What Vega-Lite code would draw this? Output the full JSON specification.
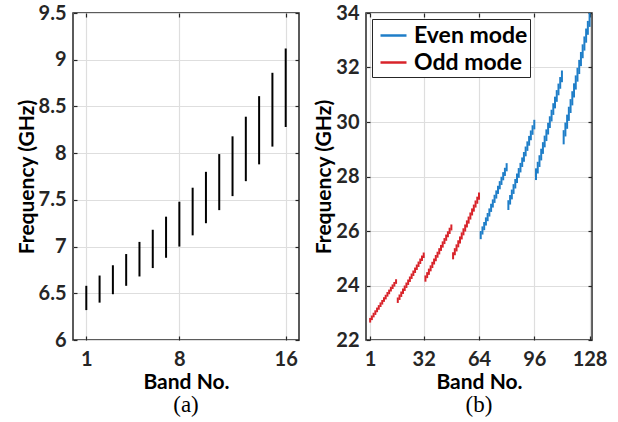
{
  "$schema": "https://vega.github.io/schema/vega-lite/v6.json",
  "background": "white",
  "padding": {"left": 15, "top": 2, "right": 5, "bottom": 2},
  "spacing": 12,
  "resolve": {"legend": {"color": "independent"}},
  "config": {
    "font": "Lato",
    "view": {"stroke": "#262626", "strokeWidth": 1.5},
    "axis": {
      "labelFont": "Lato", "labelFontSize": 20, "labelFontWeight": "bold", "labelColor": "#262626",
      "titleFont": "Lato", "titleFontSize": 21, "titleFontWeight": "bold", "titleColor": "black",
      "gridColor": "#dedede", "gridWidth": 1.2, "domain": false,
      "tickColor": "#262626", "tickSize": -4, "tickWidth": 1.2,
      "labelPadding": 11, "titlePadding": 3, "labelFlush": false
    },
    "axisX": {"labelPadding": 13, "titlePadding": 2},
    "axisY": {"titlePadding": 1},
    "title": {"font": "Liberation Serif", "fontSize": 23, "fontWeight": "normal", "color": "black"}
  },
  "hconcat": [
    {
      "width": 226, "height": 327,
      "title": {"text": "(a)", "orient": "bottom", "offset": 2},
      "data": {"values": [
        {"band": 1, "lo": 6.32, "hi": 6.58},
        {"band": 2, "lo": 6.40, "hi": 6.69},
        {"band": 3, "lo": 6.49, "hi": 6.80},
        {"band": 4, "lo": 6.58, "hi": 6.92},
        {"band": 5, "lo": 6.68, "hi": 7.05},
        {"band": 6, "lo": 6.77, "hi": 7.18},
        {"band": 7, "lo": 6.88, "hi": 7.32},
        {"band": 8, "lo": 7.00, "hi": 7.48},
        {"band": 9, "lo": 7.12, "hi": 7.63},
        {"band": 10, "lo": 7.25, "hi": 7.80},
        {"band": 11, "lo": 7.39, "hi": 7.99},
        {"band": 12, "lo": 7.54, "hi": 8.18},
        {"band": 13, "lo": 7.70, "hi": 8.39},
        {"band": 14, "lo": 7.88, "hi": 8.61},
        {"band": 15, "lo": 8.07, "hi": 8.86},
        {"band": 16, "lo": 8.28, "hi": 9.12}
      ]},
      "layer": [
        {
          "mark": {"type": "rule", "color": "black", "strokeWidth": 2},
          "encoding": {
            "x": {"field": "band", "type": "quantitative", "scale": {"domain": [0, 17], "nice": false, "zero": false},
                  "axis": {"values": [1, 8, 16], "title": "Band No."}},
            "y": {"field": "lo", "type": "quantitative", "scale": {"domain": [6, 9.5], "nice": false, "zero": false},
                  "axis": {"values": [6, 6.5, 7, 7.5, 8, 8.5, 9, 9.5], "format": "~g", "title": "Frequency (GHz)"}},
            "y2": {"field": "hi"}
          }
        },
        {
          "mark": {"type": "rule", "opacity": 0},
          "encoding": {
            "x": {"field": "band", "type": "quantitative", "scale": {"domain": [0, 17], "nice": false, "zero": false},
                  "axis": {"orient": "top", "values": [1, 8, 16], "labels": false, "title": null, "grid": false}},
            "y": {"field": "lo", "type": "quantitative", "scale": {"domain": [6, 9.5], "nice": false, "zero": false},
                  "axis": {"orient": "right", "values": [6, 6.5, 7, 7.5, 8, 8.5, 9, 9.5], "labels": false, "title": null, "grid": false}},
            "y2": {"field": "hi"}
          }
        }
      ],
      "resolve": {"axis": {"x": "independent", "y": "independent"}}
    },
    {
      "width": 226, "height": 327,
      "title": {"text": "(b)", "orient": "bottom", "offset": 2},
      "data": {"values": [
        {"band": 1, "lo": 22.64, "hi": 22.81, "mode": "Odd mode"},
        {"band": 2, "lo": 22.73, "hi": 22.90, "mode": "Odd mode"},
        {"band": 3, "lo": 22.83, "hi": 23.00, "mode": "Odd mode"},
        {"band": 4, "lo": 22.92, "hi": 23.09, "mode": "Odd mode"},
        {"band": 5, "lo": 23.02, "hi": 23.19, "mode": "Odd mode"},
        {"band": 6, "lo": 23.11, "hi": 23.28, "mode": "Odd mode"},
        {"band": 7, "lo": 23.21, "hi": 23.38, "mode": "Odd mode"},
        {"band": 8, "lo": 23.30, "hi": 23.47, "mode": "Odd mode"},
        {"band": 9, "lo": 23.40, "hi": 23.57, "mode": "Odd mode"},
        {"band": 10, "lo": 23.49, "hi": 23.66, "mode": "Odd mode"},
        {"band": 11, "lo": 23.59, "hi": 23.76, "mode": "Odd mode"},
        {"band": 12, "lo": 23.68, "hi": 23.85, "mode": "Odd mode"},
        {"band": 13, "lo": 23.78, "hi": 23.95, "mode": "Odd mode"},
        {"band": 14, "lo": 23.87, "hi": 24.04, "mode": "Odd mode"},
        {"band": 15, "lo": 23.96, "hi": 24.13, "mode": "Odd mode"},
        {"band": 16, "lo": 24.06, "hi": 24.23, "mode": "Odd mode"},
        {"band": 17, "lo": 23.36, "hi": 23.56, "mode": "Odd mode"},
        {"band": 18, "lo": 23.47, "hi": 23.67, "mode": "Odd mode"},
        {"band": 19, "lo": 23.58, "hi": 23.78, "mode": "Odd mode"},
        {"band": 20, "lo": 23.69, "hi": 23.89, "mode": "Odd mode"},
        {"band": 21, "lo": 23.80, "hi": 24.00, "mode": "Odd mode"},
        {"band": 22, "lo": 23.91, "hi": 24.11, "mode": "Odd mode"},
        {"band": 23, "lo": 24.02, "hi": 24.22, "mode": "Odd mode"},
        {"band": 24, "lo": 24.13, "hi": 24.33, "mode": "Odd mode"},
        {"band": 25, "lo": 24.24, "hi": 24.44, "mode": "Odd mode"},
        {"band": 26, "lo": 24.35, "hi": 24.55, "mode": "Odd mode"},
        {"band": 27, "lo": 24.46, "hi": 24.66, "mode": "Odd mode"},
        {"band": 28, "lo": 24.57, "hi": 24.77, "mode": "Odd mode"},
        {"band": 29, "lo": 24.68, "hi": 24.88, "mode": "Odd mode"},
        {"band": 30, "lo": 24.79, "hi": 24.99, "mode": "Odd mode"},
        {"band": 31, "lo": 24.90, "hi": 25.10, "mode": "Odd mode"},
        {"band": 32, "lo": 25.01, "hi": 25.21, "mode": "Odd mode"},
        {"band": 33, "lo": 24.14, "hi": 24.37, "mode": "Odd mode"},
        {"band": 34, "lo": 24.27, "hi": 24.49, "mode": "Odd mode"},
        {"band": 35, "lo": 24.39, "hi": 24.62, "mode": "Odd mode"},
        {"band": 36, "lo": 24.52, "hi": 24.74, "mode": "Odd mode"},
        {"band": 37, "lo": 24.64, "hi": 24.87, "mode": "Odd mode"},
        {"band": 38, "lo": 24.77, "hi": 24.99, "mode": "Odd mode"},
        {"band": 39, "lo": 24.89, "hi": 25.12, "mode": "Odd mode"},
        {"band": 40, "lo": 25.02, "hi": 25.24, "mode": "Odd mode"},
        {"band": 41, "lo": 25.14, "hi": 25.37, "mode": "Odd mode"},
        {"band": 42, "lo": 25.27, "hi": 25.49, "mode": "Odd mode"},
        {"band": 43, "lo": 25.39, "hi": 25.62, "mode": "Odd mode"},
        {"band": 44, "lo": 25.52, "hi": 25.74, "mode": "Odd mode"},
        {"band": 45, "lo": 25.64, "hi": 25.87, "mode": "Odd mode"},
        {"band": 46, "lo": 25.77, "hi": 25.99, "mode": "Odd mode"},
        {"band": 47, "lo": 25.89, "hi": 26.12, "mode": "Odd mode"},
        {"band": 48, "lo": 26.02, "hi": 26.24, "mode": "Odd mode"},
        {"band": 49, "lo": 24.96, "hi": 25.22, "mode": "Odd mode"},
        {"band": 50, "lo": 25.11, "hi": 25.37, "mode": "Odd mode"},
        {"band": 51, "lo": 25.25, "hi": 25.51, "mode": "Odd mode"},
        {"band": 52, "lo": 25.40, "hi": 25.66, "mode": "Odd mode"},
        {"band": 53, "lo": 25.54, "hi": 25.80, "mode": "Odd mode"},
        {"band": 54, "lo": 25.69, "hi": 25.95, "mode": "Odd mode"},
        {"band": 55, "lo": 25.84, "hi": 26.10, "mode": "Odd mode"},
        {"band": 56, "lo": 25.98, "hi": 26.24, "mode": "Odd mode"},
        {"band": 57, "lo": 26.13, "hi": 26.39, "mode": "Odd mode"},
        {"band": 58, "lo": 26.27, "hi": 26.53, "mode": "Odd mode"},
        {"band": 59, "lo": 26.42, "hi": 26.68, "mode": "Odd mode"},
        {"band": 60, "lo": 26.57, "hi": 26.83, "mode": "Odd mode"},
        {"band": 61, "lo": 26.71, "hi": 26.97, "mode": "Odd mode"},
        {"band": 62, "lo": 26.86, "hi": 27.12, "mode": "Odd mode"},
        {"band": 63, "lo": 27.00, "hi": 27.26, "mode": "Odd mode"},
        {"band": 64, "lo": 27.15, "hi": 27.41, "mode": "Odd mode"},
        {"band": 65, "lo": 25.70, "hi": 26.00, "mode": "Even mode"},
        {"band": 66, "lo": 25.87, "hi": 26.17, "mode": "Even mode"},
        {"band": 67, "lo": 26.03, "hi": 26.33, "mode": "Even mode"},
        {"band": 68, "lo": 26.20, "hi": 26.50, "mode": "Even mode"},
        {"band": 69, "lo": 26.36, "hi": 26.66, "mode": "Even mode"},
        {"band": 70, "lo": 26.53, "hi": 26.83, "mode": "Even mode"},
        {"band": 71, "lo": 26.70, "hi": 27.00, "mode": "Even mode"},
        {"band": 72, "lo": 26.86, "hi": 27.16, "mode": "Even mode"},
        {"band": 73, "lo": 27.03, "hi": 27.33, "mode": "Even mode"},
        {"band": 74, "lo": 27.19, "hi": 27.49, "mode": "Even mode"},
        {"band": 75, "lo": 27.36, "hi": 27.66, "mode": "Even mode"},
        {"band": 76, "lo": 27.53, "hi": 27.83, "mode": "Even mode"},
        {"band": 77, "lo": 27.69, "hi": 27.99, "mode": "Even mode"},
        {"band": 78, "lo": 27.86, "hi": 28.16, "mode": "Even mode"},
        {"band": 79, "lo": 28.02, "hi": 28.32, "mode": "Even mode"},
        {"band": 80, "lo": 28.19, "hi": 28.49, "mode": "Even mode"},
        {"band": 81, "lo": 26.77, "hi": 27.13, "mode": "Even mode"},
        {"band": 82, "lo": 26.97, "hi": 27.32, "mode": "Even mode"},
        {"band": 83, "lo": 27.16, "hi": 27.52, "mode": "Even mode"},
        {"band": 84, "lo": 27.36, "hi": 27.72, "mode": "Even mode"},
        {"band": 85, "lo": 27.56, "hi": 27.91, "mode": "Even mode"},
        {"band": 86, "lo": 27.76, "hi": 28.11, "mode": "Even mode"},
        {"band": 87, "lo": 27.95, "hi": 28.31, "mode": "Even mode"},
        {"band": 88, "lo": 28.15, "hi": 28.50, "mode": "Even mode"},
        {"band": 89, "lo": 28.35, "hi": 28.70, "mode": "Even mode"},
        {"band": 90, "lo": 28.54, "hi": 28.90, "mode": "Even mode"},
        {"band": 91, "lo": 28.74, "hi": 29.10, "mode": "Even mode"},
        {"band": 92, "lo": 28.94, "hi": 29.29, "mode": "Even mode"},
        {"band": 93, "lo": 29.13, "hi": 29.49, "mode": "Even mode"},
        {"band": 94, "lo": 29.33, "hi": 29.69, "mode": "Even mode"},
        {"band": 95, "lo": 29.53, "hi": 29.88, "mode": "Even mode"},
        {"band": 96, "lo": 29.73, "hi": 30.08, "mode": "Even mode"},
        {"band": 97, "lo": 27.87, "hi": 28.30, "mode": "Even mode"},
        {"band": 98, "lo": 28.11, "hi": 28.54, "mode": "Even mode"},
        {"band": 99, "lo": 28.35, "hi": 28.78, "mode": "Even mode"},
        {"band": 100, "lo": 28.59, "hi": 29.02, "mode": "Even mode"},
        {"band": 101, "lo": 28.83, "hi": 29.26, "mode": "Even mode"},
        {"band": 102, "lo": 29.07, "hi": 29.50, "mode": "Even mode"},
        {"band": 103, "lo": 29.30, "hi": 29.73, "mode": "Even mode"},
        {"band": 104, "lo": 29.54, "hi": 29.97, "mode": "Even mode"},
        {"band": 105, "lo": 29.78, "hi": 30.21, "mode": "Even mode"},
        {"band": 106, "lo": 30.02, "hi": 30.45, "mode": "Even mode"},
        {"band": 107, "lo": 30.26, "hi": 30.69, "mode": "Even mode"},
        {"band": 108, "lo": 30.50, "hi": 30.93, "mode": "Even mode"},
        {"band": 109, "lo": 30.74, "hi": 31.17, "mode": "Even mode"},
        {"band": 110, "lo": 30.98, "hi": 31.41, "mode": "Even mode"},
        {"band": 111, "lo": 31.22, "hi": 31.65, "mode": "Even mode"},
        {"band": 112, "lo": 31.46, "hi": 31.89, "mode": "Even mode"},
        {"band": 113, "lo": 29.18, "hi": 29.70, "mode": "Even mode"},
        {"band": 114, "lo": 29.47, "hi": 29.98, "mode": "Even mode"},
        {"band": 115, "lo": 29.75, "hi": 30.27, "mode": "Even mode"},
        {"band": 116, "lo": 30.04, "hi": 30.56, "mode": "Even mode"},
        {"band": 117, "lo": 30.33, "hi": 30.84, "mode": "Even mode"},
        {"band": 118, "lo": 30.61, "hi": 31.13, "mode": "Even mode"},
        {"band": 119, "lo": 30.90, "hi": 31.42, "mode": "Even mode"},
        {"band": 120, "lo": 31.19, "hi": 31.71, "mode": "Even mode"},
        {"band": 121, "lo": 31.48, "hi": 31.99, "mode": "Even mode"},
        {"band": 122, "lo": 31.76, "hi": 32.28, "mode": "Even mode"},
        {"band": 123, "lo": 32.05, "hi": 32.57, "mode": "Even mode"},
        {"band": 124, "lo": 32.34, "hi": 32.85, "mode": "Even mode"},
        {"band": 125, "lo": 32.62, "hi": 33.14, "mode": "Even mode"},
        {"band": 126, "lo": 32.91, "hi": 33.43, "mode": "Even mode"},
        {"band": 127, "lo": 33.20, "hi": 33.71, "mode": "Even mode"},
        {"band": 128, "lo": 33.49, "hi": 34.00, "mode": "Even mode"}
      ]},
      "layer": [
        {
          "mark": {"type": "rule", "strokeWidth": 2, "clip": true},
          "encoding": {
            "x": {"field": "band", "type": "quantitative", "scale": {"domain": [-1.4, 129.4], "nice": false, "zero": false},
                  "axis": {"values": [1, 32, 64, 96, 128], "title": "Band No."}},
            "y": {"field": "lo", "type": "quantitative", "scale": {"domain": [22, 34], "nice": false, "zero": false},
                  "axis": {"values": [22, 24, 26, 28, 30, 32, 34], "title": "Frequency (GHz)"}},
            "y2": {"field": "hi"},
            "color": {"field": "mode", "type": "nominal",
                      "scale": {"domain": ["Even mode", "Odd mode"], "range": ["#1f7ec8", "#d8232a"]},
                      "legend": {"orient": "top-left", "offset": 6, "title": null,
                                 "strokeColor": "#262626", "fillColor": "white", "padding": 2,
                                 "symbolType": "stroke", "symbolSize": 676, "symbolStrokeWidth": 2.5, "symbolOffset": 5,
                                 "labelFont": "Lato", "labelFontSize": 23, "labelFontWeight": "bold", "labelColor": "black",
                                 "labelOffset": 6, "rowPadding": 0}}
          }
        },
        {
          "mark": {"type": "rule", "opacity": 0},
          "encoding": {
            "x": {"field": "band", "type": "quantitative", "scale": {"domain": [-1.4, 129.4], "nice": false, "zero": false},
                  "axis": {"orient": "top", "values": [1, 32, 64, 96, 128], "labels": false, "title": null, "grid": false}},
            "y": {"field": "lo", "type": "quantitative", "scale": {"domain": [22, 34], "nice": false, "zero": false},
                  "axis": {"orient": "right", "values": [22, 24, 26, 28, 30, 32, 34], "labels": false, "title": null, "grid": false}},
            "y2": {"field": "hi"}
          }
        }
      ],
      "resolve": {"axis": {"x": "independent", "y": "independent"}}
    }
  ]
}
